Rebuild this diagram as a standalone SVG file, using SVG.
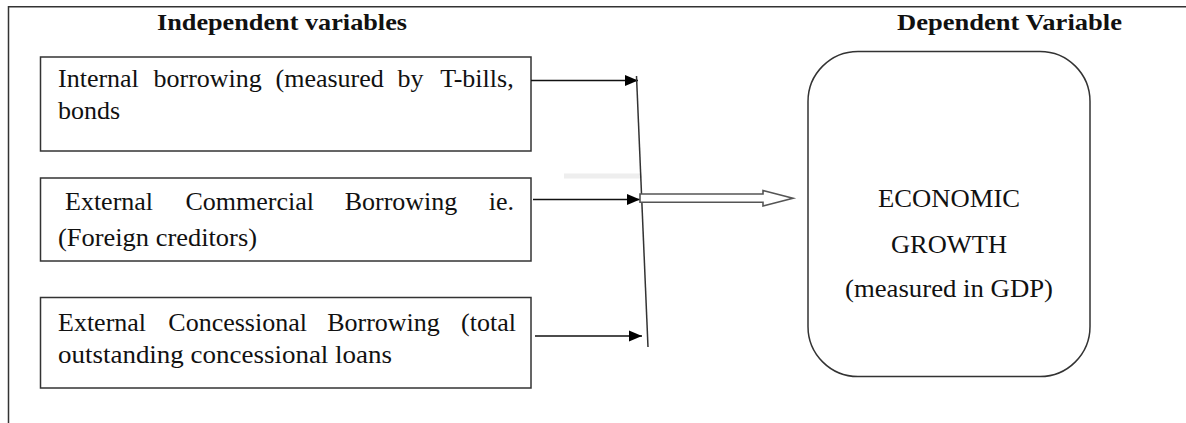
<svg xmlns="http://www.w3.org/2000/svg" width="1186" height="423" viewBox="0 0 1186 423">
<style>
  .frame { fill: none; stroke: #333; stroke-width: 1.5; }
  .box { fill: #fff; stroke: #333; stroke-width: 1.5; }
  .txt { font-family: "Liberation Serif", "Times New Roman", serif; font-size: 26px; fill: #111; }
  .title { font-family: "Liberation Serif", "Times New Roman", serif; font-size: 23px; font-weight: bold; fill: #111; }
  .conn { stroke: #111; stroke-width: 1.5; fill: none; }
  .hollow { fill: #fff; stroke: #555; stroke-width: 1.6; }
</style>
<defs>
  <marker id="head" markerUnits="userSpaceOnUse" markerWidth="14" markerHeight="12" refX="13" refY="6" orient="auto">
    <path d="M0,0.5 L13,6 L0,11.5 Z" fill="#000"/>
  </marker>
</defs>
<rect width="1186" height="423" fill="#fff"/>
<g id="frame">
  <path class="frame" d="M8.5,423 V6.8 H1186"/>
</g>
<g id="titles">
  <text class="title" x="157" y="30" textLength="250" lengthAdjust="spacingAndGlyphs">Independent variables</text>
  <text class="title" x="897" y="30" textLength="225" lengthAdjust="spacingAndGlyphs">Dependent Variable</text>
</g>
<g id="node-internal">
  <rect class="box" x="40.5" y="57" width="490.5" height="94"/>
  <text class="txt" y="87"><tspan x="58">Internal</tspan><tspan x="153.5">borrowing</tspan><tspan x="275.5">(measured</tspan><tspan x="397.4">by</tspan><tspan x="440.2">T-bills,</tspan></text>
  <text class="txt" x="58" y="119">bonds</text>
</g>
<g id="node-commercial">
  <rect class="box" x="40.5" y="178" width="490.5" height="83"/>
  <text class="txt" y="210"><tspan x="65">External</tspan><tspan x="185.4">Commercial</tspan><tspan x="344.7">Borrowing</tspan><tspan x="488.7">ie.</tspan></text>
  <text class="txt" x="58" y="246" textLength="199" lengthAdjust="spacingAndGlyphs">(Foreign creditors)</text>
</g>
<g id="node-concessional">
  <rect class="box" x="40.5" y="297.5" width="490.5" height="90.5"/>
  <text class="txt" y="331"><tspan x="58">External</tspan><tspan x="168.3">Concessional</tspan><tspan x="327.2">Borrowing</tspan><tspan x="461.1">(total</tspan></text>
  <text class="txt" x="58" y="363" textLength="334" lengthAdjust="spacingAndGlyphs">outstanding concessional loans</text>
</g>
<g id="node-growth">
  <rect class="box" x="808" y="51.5" width="282" height="325" rx="50" ry="50"/>
  <text class="txt" x="878" y="207" textLength="142" lengthAdjust="spacingAndGlyphs">ECONOMIC</text>
  <text class="txt" x="891" y="253" textLength="116" lengthAdjust="spacingAndGlyphs">GROWTH</text>
  <text class="txt" x="845" y="297" textLength="208" lengthAdjust="spacingAndGlyphs">(measured in GDP)</text>
</g>
<g id="connectors">
  <rect x="564" y="173.5" width="78" height="5" fill="#eeeeee"/>
  <line class="conn" x1="531" y1="80.5" x2="638" y2="80.5" marker-end="url(#head)"/>
  <line class="conn" x1="533" y1="199.5" x2="640" y2="199.5" marker-end="url(#head)"/>
  <line class="conn" x1="535" y1="336" x2="642" y2="336" marker-end="url(#head)"/>
  <line x1="636.5" y1="76" x2="648" y2="347" stroke="#333" stroke-width="1.5"/>
  <path class="hollow" d="M640,194 H763 V190.5 L793,198.2 L763,206 V202.3 H640 Z"/>
</g>
</svg>
